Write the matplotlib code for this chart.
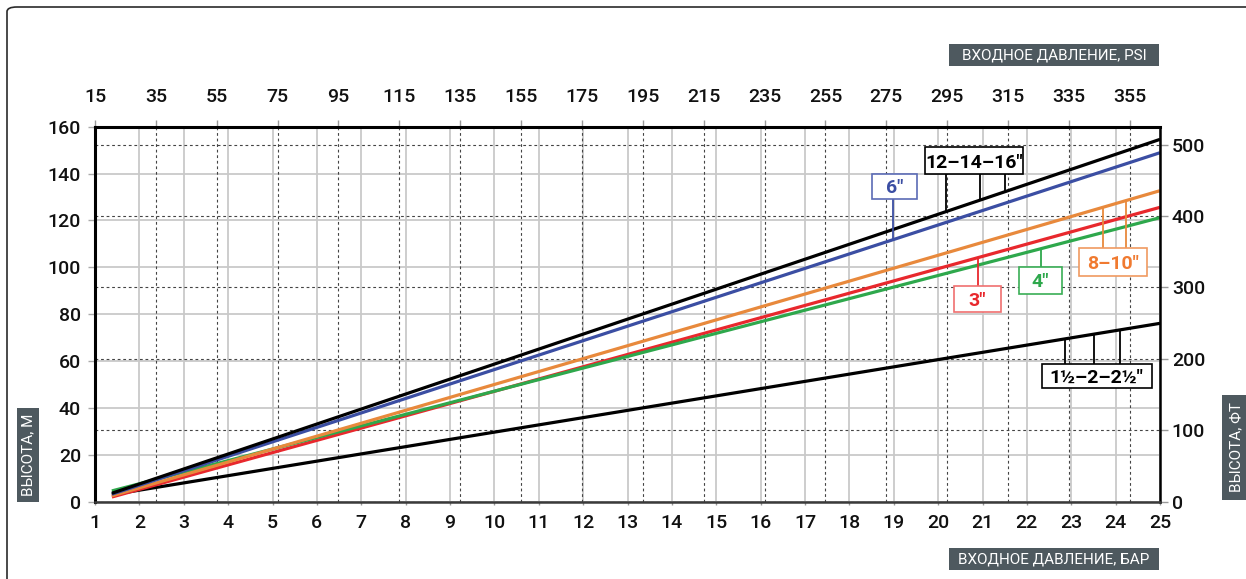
import numpy as np
import matplotlib.pyplot as plt
from matplotlib.patches import Rectangle, FancyBboxPatch

plt.rcParams['font.family'] = ['Roboto', 'DejaVu Sans']

W, H = 1246, 579

# inlet pressure (bar) -> height (m); every curve is a straight line
bar_pts = [1.38, 25.0]
h_12_14_16 = [3.6, 154.6]
h_6 = [3.2, 148.9]
h_8_10 = [2.5, 132.7]
h_3 = [2.0, 125.6]
h_4 = [4.6, 121.2]
h_15_2_25 = [3.0, 76.1]

bar_ticks = list(range(1, 26))
psi_ticks = list(range(15, 356, 20))
m_ticks = list(range(0, 161, 20))
ft_ticks = list(range(0, 501, 100))

PSI_PER_BAR = 14.58
FT_PER_M = 3.281


def bar2psi(b):
    return 15 + (np.asarray(b, dtype=float) - 1) * PSI_PER_BAR


def psi2bar(p):
    return 1 + (np.asarray(p, dtype=float) - 15) / PSI_PER_BAR


def m2ft(m):
    return np.asarray(m, dtype=float) * FT_PER_M


def ft2m(f):
    return np.asarray(f, dtype=float) / FT_PER_M


BLUE = '#3b4ea3'
ORANGE = '#e8893c'
RED = '#e8282d'
GREEN = '#2ea84c'
TICK_FS = 14

fig = plt.figure(figsize=(W / 100, H / 100), dpi=100)

# outer rounded frame (runs off the right and bottom edges)
fig.patches.append(FancyBboxPatch((7 / W, -0.5), 1.2, 1 - 7 / H + 0.5,
                                  boxstyle='round,pad=0,rounding_size=0.008',
                                  transform=fig.transFigure, fill=False, ec='#2a2a2a', lw=1.2))

ax = fig.add_axes([95 / W, (H - 501.7) / H, 1065 / W, 375 / H])
ax.set_xlim(1, 25)
ax.set_ylim(0, 160)

# solid light grid (bar / m) and dashed grid (psi / ft)
for b in bar_ticks:
    ax.axvline(b, color='#c9c9c9', lw=1.3, zorder=1)
for m in m_ticks:
    ax.axhline(m, color='#c9c9c9', lw=1.3, zorder=1)
for p in psi2bar(psi_ticks):
    ax.axvline(p, color='#444444', lw=0.8, ls=(0, (2.5, 2.5)), zorder=1.5)
for f in ft2m(ft_ticks):
    ax.axhline(f, color='#444444', lw=0.8, ls=(0, (2.5, 2.5)), zorder=1.5)

series = [
    (h_15_2_25, 'black'),
    (h_3, RED),
    (h_4, GREEN),
    (h_8_10, ORANGE),
    (h_6, BLUE),
    (h_12_14_16, 'black'),
]
for vals, col in series:
    ax.plot(bar_pts, vals, color=col, lw=2.3, solid_capstyle='butt', zorder=3)

# label boxes: text, series, text colour, edge colour, leader colour, centre (bar, m), size (px), leader x
labels = [
    ('12–14–16"', h_12_14_16, 'black', 'black', 'black', (20.81, 145.5), (98, 27), [20.18, 20.94, 21.51]),
    ('6"', h_6, BLUE, '#5b6bb5', BLUE, (19.01, 134.5), (45, 25), [18.99]),
    ('3"', h_3, RED, '#f07070', RED, (20.89, 86.3), (47, 26), [20.89]),
    ('4"', h_4, GREEN, '#3aae55', GREEN, (22.31, 94.4), (43, 27), [22.31]),
    ('8–10"', h_8_10, '#f07a30', '#f09a60', ORANGE, (23.94, 102.3), (68, 28), [23.72, 24.23]),
    ('1½–2–2½"', h_15_2_25, 'black', 'black', 'black', (23.57, 53.5), (110, 24), [22.87, 23.52, 24.10]),
]
px_x = 1065 / 24
px_y = 375 / 160
for text, vals, tcol, ecol, lcol, (cx, cy), (wpx, hpx), leads in labels:
    w = wpx / px_x
    h = hpx / px_y
    ax.add_patch(Rectangle((cx - w / 2, cy - h / 2), w, h, fc='white', ec=ecol, lw=1.2, zorder=5))
    ax.text(cx, cy, text, ha='center', va='center_baseline', fontsize=14, fontweight='bold',
            color=tcol, zorder=6)
    for lx in leads:
        ly = np.interp(lx, bar_pts, vals)
        edge = cy - h / 2 if cy > ly else cy + h / 2
        ax.plot([lx, lx], [edge, ly], color=lcol, lw=1.3, zorder=4)

for side in ['top', 'left']:
    ax.spines[side].set_linewidth(2.2)
    ax.spines[side].set_color('black')
ax.spines['right'].set_linewidth(1.8)
ax.spines['right'].set_color('black')
ax.spines['bottom'].set_linewidth(1.8)
ax.spines['bottom'].set_color('#3a3a3a')
for s in ax.spines.values():
    s.set_zorder(7)

ax.set_xticks(bar_ticks)
ax.set_yticks(m_ticks)
ax.tick_params(axis='x', length=2.5, width=1, color='#999999', pad=6.5, labelsize=TICK_FS,
               labelcolor='#111111')
ax.tick_params(axis='y', length=5, width=1, color='#aaaaaa', pad=5, labelsize=TICK_FS,
               labelcolor='#111111')

secx = ax.secondary_xaxis('top', functions=(bar2psi, psi2bar))
secx.set_xticks(psi_ticks)
secx.tick_params(length=5, width=1, color='#999999', pad=10, labelsize=TICK_FS, labelcolor='#111111')
secx.spines['top'].set_visible(False)

secy = ax.secondary_yaxis('right', functions=(m2ft, ft2m))
secy.set_yticks(ft_ticks)
secy.tick_params(length=5.5, width=1, color='#999999', pad=3, labelsize=TICK_FS, labelcolor='#111111')
secy.spines['right'].set_visible(False)

for lab in (ax.get_xticklabels() + ax.get_yticklabels() +
            secx.get_xticklabels() + secy.get_yticklabels()):
    lab.set_fontweight('medium')

# axis title plates
SLATE = '#4e595f'


def plate(x0, y0, x1, y1, text, rot=0):
    fig.patches.append(Rectangle((x0 / W, 1 - y1 / H), (x1 - x0) / W, (y1 - y0) / H,
                                 transform=fig.transFigure, fc=SLATE, ec='none'))
    fig.text((x0 + x1) / 2 / W, 1 - (y0 + y1) / 2 / H, text, rotation=rot, ha='center',
             va='center', color='white', fontsize=11)


plate(949, 44, 1159, 66, 'ВХОДНОЕ ДАВЛЕНИЕ, PSI')
plate(949, 548, 1159, 570, 'ВХОДНОЕ ДАВЛЕНИЕ, БАР')
plate(17, 408, 39, 502, 'ВЫСОТА, М', rot=90)
plate(1222, 395, 1250, 500, 'ВЫСОТА, ФТ', rot=90)

fig.savefig('out.png', dpi=100)
